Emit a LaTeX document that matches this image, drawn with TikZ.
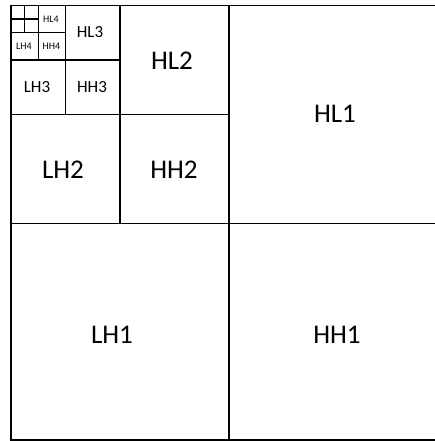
\documentclass[tikz,border=0pt]{standalone}
\usepackage{fontspec}
\setmainfont{Carlito}
\usetikzlibrary{positioning}

\begin{document}
\begin{tikzpicture}[x=1pt, y=-1pt, line width=1.4pt,
    big/.style={font=\fontsize{27}{27}\selectfont},
    mid/.style={font=\fontsize{17}{17}\selectfont},
    small/.style={font=\fontsize{10}{10}\selectfont}]
    \useasboundingbox (0,0) rectangle (435,441);

    % Khung ngoài
    \draw (447,5.5) -- (11,5.5) -- (11,440) -- (447,440);

    % Các ô vuông lồng nhau: mỗi mức chia đôi ô trên trái
    \foreach \s in {218,109,54.5,27.25,13.62} {
        \draw (11,5.5) rectangle ++(2*\s,2*\s);
        \draw (11+\s,5.5) -- ++(0,2*\s);
        \draw (11,5.5+\s) -- ++(2*\s,0);
    }

    % Nhãn mức 1
    \node[big] (hl1) at (335,114) {HL1};
    \node[big] (lh1) at (112,335) {LH1};
    \node[big] (hh1) at (337,335) {HH1};

    % Nhãn mức 2
    \node[big] (hl2) at (172,61) {HL2};
    \node[big] (lh2) at (63,170) {LH2};
    \node[big] (hh2) at (174,170) {HH2};

    % Nhãn mức 3
    \node[mid] (hl3) at (90,32) {HL3};
    \node[mid] (lh3) at (37,87) {LH3};
    \node[mid] (hh3) at (92,87) {HH3};

    % Nhãn mức 4
    \node[small] (hl4) at (51,19.5) {HL4};
    \node[small] (lh4) at (24,46.5) {LH4};
    \node[small] (hh4) at (51.5,46.5) {HH4};
\end{tikzpicture}
\end{document}
